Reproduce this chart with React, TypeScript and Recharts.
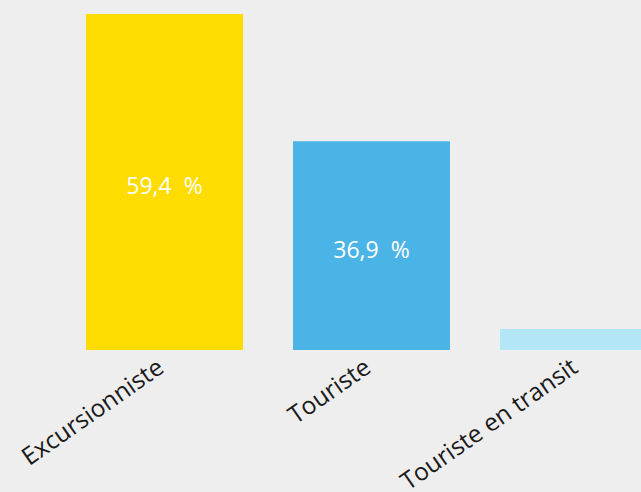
import { BarChart, Bar, XAxis, YAxis, LabelList } from "recharts"

const categories = ["Excursionniste", "Touriste", "Touriste en transit"]
const shares = [59.4, 36.9, 3.7]
const colors = ["#FFDC00", "#4BB4E6", "#B3E7F6"]

const data = categories.map((name, i) => ({ name, value: shares[i], fill: colors[i] }))

// French-style number: comma decimal, spaced percent sign
const fmt = (v: number) => v.toFixed(1).replace(".", ",") + "\u00A0\u00A0%"

function Tick(props: any) {
  const { x, y, payload } = props
  const ax = x + 1
  const ay = y + 13
  return (
    <text
      x={ax}
      y={ay}
      textAnchor="end"
      transform={`rotate(-35, ${ax}, ${ay})`}
      fill="#1a1a1a"
      fontSize={24.5}
      fontFamily="'Open Sans', 'Noto Sans', sans-serif"
    >
      {payload.value}
    </text>
  )
}

function ValueLabel(props: any) {
  const { x, y, width, height, value } = props
  if (value < 10) return null
  return (
    <text
      x={x + width / 2}
      y={y + height / 2 + 6}
      textAnchor="middle"
      dominantBaseline="middle"
      fill="#ffffff"
      fontSize={23}
      fontFamily="'Open Sans', 'Noto Sans', sans-serif"
    >
      {fmt(value)}
    </text>
  )
}

export default function App() {
  return (
    <div
      style={{
        position: "absolute",
        left: 0,
        top: 0,
        width: 641,
        height: 492,
        overflow: "hidden",
        background: "#EEEEEE",
      }}
    >
      <BarChart
        width={682}
        height={492}
        data={data}
        margin={{ top: 14, right: 0, left: 61, bottom: 0 }}
        barCategoryGap={25}
      >
        <XAxis
          dataKey="name"
          height={142}
          axisLine={false}
          tickLine={false}
          interval={0}
          tick={<Tick />}
        />
        <YAxis hide domain={[0, 59.4]} />
        <Bar dataKey="value" isAnimationActive={false}>
          <LabelList dataKey="value" content={<ValueLabel />} />
        </Bar>
      </BarChart>
    </div>
  )
}
